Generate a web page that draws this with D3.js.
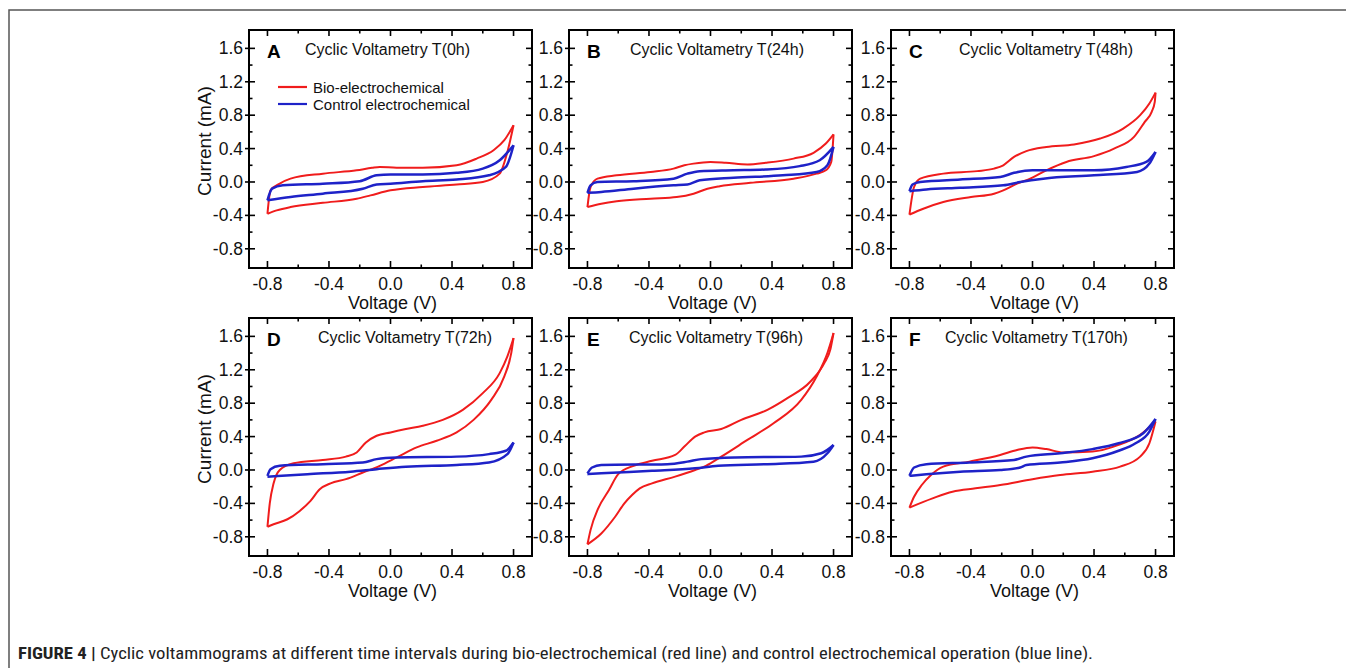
<!DOCTYPE html>
<html>
<head>
<meta charset="utf-8">
<script src="https://cdn.jsdelivr.net/npm/d3@7"></script>
<style>
  html, body { margin: 0; padding: 0; background: #fff; }
  svg { display: block; font-family: "Liberation Sans", Arial, Helvetica, sans-serif; }
</style>
</head>
<body>
<svg id="chart" width="1346" height="668"></svg>
<script>
// ---------------- DATA (voltage V, current mA), loops: forward scan then reverse ----------------
const panelLetters = ["A", "B", "C", "D", "E", "F"];
const panelTimes = ["0h", "24h", "48h", "72h", "96h", "170h"];
const legendLabels = ["Bio-electrochemical", "Control electrochemical"];
const xTicks = [-0.8, -0.4, 0.0, 0.4, 0.8];
const yTicks = [-0.8, -0.4, 0.0, 0.4, 0.8, 1.2, 1.6];
const xMinor = [-0.6, -0.2, 0.2, 0.6];
const yMinor = [-0.6, -0.2, 0.2, 0.6, 1.0, 1.4];

const bioA = [[-0.8,-0.38],[-0.78,-0.1],[-0.72,-0.02],[-0.65,0.04],[-0.44,0.1],[-0.22,0.14],[-0.12,0.17],[-0.07,0.18],[0.04,0.17],[0.21,0.17],[0.43,0.2],[0.56,0.28],[0.67,0.38],[0.74,0.5],[0.8,0.68],
  [0.76,0.36],[0.71,0.1],[0.6,0.0],[0.43,-0.03],[0.21,-0.06],[0.0,-0.1],[-0.13,-0.16],[-0.22,-0.2],[-0.44,-0.25],[-0.65,-0.3],[-0.74,-0.34],[-0.8,-0.38]];
const ctrlA = [[-0.8,-0.22],[-0.77,-0.08],[-0.7,-0.04],[-0.44,-0.02],[-0.2,0.01],[-0.09,0.08],[0,0.09],[0.21,0.09],[0.43,0.11],[0.6,0.16],[0.71,0.26],[0.8,0.44],
  [0.75,0.18],[0.64,0.08],[0.43,0.03],[0.21,0.01],[0,-0.02],[-0.09,-0.03],[-0.18,-0.08],[-0.44,-0.14],[-0.65,-0.18],[-0.8,-0.22]];
const bioB = [[-0.8,-0.3],[-0.78,-0.06],[-0.735,0.04],[-0.61,0.08],[-0.39,0.12],[-0.24,0.16],[-0.17,0.2],[-0.11,0.22],[0,0.24],[0.1,0.23],[0.24,0.21],[0.36,0.23],[0.54,0.28],[0.67,0.35],[0.75,0.46],[0.8,0.57],
  [0.785,0.24],[0.75,0.14],[0.69,0.1],[0.54,0.04],[0.26,-0.01],[0.06,-0.05],[-0.02,-0.08],[-0.11,-0.14],[-0.22,-0.18],[-0.39,-0.2],[-0.61,-0.23],[-0.71,-0.26],[-0.8,-0.3]];
const ctrlB = [[-0.8,-0.13],[-0.78,-0.04],[-0.735,0.0],[-0.5,0.01],[-0.24,0.04],[-0.15,0.1],[-0.07,0.13],[0.15,0.14],[0.36,0.15],[0.58,0.19],[0.71,0.26],[0.8,0.42],
  [0.76,0.2],[0.69,0.12],[0.47,0.08],[0.15,0.05],[-0.07,0.02],[-0.15,-0.03],[-0.24,-0.04],[-0.5,-0.08],[-0.71,-0.12],[-0.8,-0.13]];
const bioC = [[-0.8,-0.39],[-0.77,-0.06],[-0.73,0.04],[-0.58,0.1],[-0.36,0.13],[-0.25,0.16],[-0.19,0.2],[-0.12,0.3],[-0.04,0.37],[0.09,0.42],[0.27,0.45],[0.44,0.52],[0.59,0.64],[0.7,0.8],[0.76,0.94],[0.8,1.07],
  [0.795,0.96],[0.775,0.84],[0.73,0.72],[0.66,0.54],[0.53,0.4],[0.4,0.31],[0.22,0.24],[0.09,0.14],[-0.015,0.04],[-0.1,-0.02],[-0.19,-0.1],[-0.25,-0.14],[-0.4,-0.18],[-0.58,-0.24],[-0.71,-0.32],[-0.8,-0.39]];
const ctrlC = [[-0.8,-0.11],[-0.78,-0.03],[-0.73,0.0],[-0.47,0.03],[-0.21,0.06],[-0.12,0.11],[0,0.14],[0.4,0.14],[0.61,0.18],[0.74,0.24],[0.8,0.36],
  [0.76,0.22],[0.68,0.12],[0.4,0.08],[0.07,0.04],[-0.08,0.0],[-0.19,-0.04],[-0.47,-0.07],[-0.69,-0.09],[-0.8,-0.11]];
const bioD = [[-0.8,-0.68],[-0.785,-0.4],[-0.76,-0.16],[-0.72,0.0],[-0.63,0.08],[-0.44,0.12],[-0.29,0.16],[-0.22,0.21],[-0.16,0.33],[-0.09,0.41],[0,0.45],[0.1,0.49],[0.21,0.53],[0.34,0.6],[0.47,0.72],[0.6,0.92],[0.71,1.16],[0.76,1.36],[0.8,1.58],
  [0.785,1.4],[0.74,1.12],[0.655,0.84],[0.54,0.6],[0.43,0.45],[0.3,0.35],[0.17,0.27],[0.04,0.15],[-0.07,0.05],[-0.18,-0.03],[-0.29,-0.11],[-0.39,-0.16],[-0.46,-0.23],[-0.52,-0.37],[-0.59,-0.49],[-0.67,-0.59],[-0.76,-0.65],[-0.8,-0.68]];
const ctrlD = [[-0.8,-0.07],[-0.78,0.01],[-0.72,0.05],[-0.44,0.07],[-0.18,0.09],[-0.09,0.13],[0.04,0.15],[0.43,0.16],[0.64,0.19],[0.75,0.23],[0.8,0.33],
  [0.76,0.19],[0.64,0.09],[0.43,0.06],[0.1,0.04],[-0.09,0.01],[-0.26,-0.02],[-0.54,-0.05],[-0.8,-0.08]];
const bioE = [[-0.8,-0.89],[-0.78,-0.72],[-0.73,-0.46],[-0.66,-0.24],[-0.6,-0.05],[-0.5,0.05],[-0.38,0.11],[-0.23,0.18],[-0.17,0.28],[-0.1,0.4],[-0.04,0.45],[0.07,0.49],[0.2,0.6],[0.37,0.72],[0.5,0.86],[0.65,1.06],[0.74,1.28],[0.78,1.45],[0.8,1.64],
  [0.76,1.4],[0.69,1.12],[0.59,0.84],[0.41,0.56],[0.24,0.36],[0.07,0.16],[-0.03,0.05],[-0.1,0.0],[-0.23,-0.08],[-0.38,-0.16],[-0.46,-0.22],[-0.51,-0.3],[-0.56,-0.4],[-0.62,-0.56],[-0.71,-0.76],[-0.8,-0.89]];
const ctrlE = [[-0.8,-0.04],[-0.77,0.03],[-0.71,0.06],[-0.28,0.07],[-0.15,0.1],[-0.06,0.13],[0.16,0.15],[0.59,0.16],[0.72,0.2],[0.8,0.3],
  [0.76,0.2],[0.67,0.1],[0.37,0.07],[0.05,0.05],[-0.1,0.02],[-0.38,-0.01],[-0.71,-0.04],[-0.8,-0.05]];
const bioF = [[-0.8,-0.45],[-0.77,-0.32],[-0.72,-0.18],[-0.66,-0.06],[-0.58,0.04],[-0.41,0.1],[-0.21,0.18],[-0.1,0.24],[0,0.27],[0.09,0.25],[0.2,0.21],[0.39,0.22],[0.56,0.3],[0.7,0.42],[0.8,0.58],
  [0.76,0.32],[0.7,0.16],[0.57,0.04],[0.39,-0.02],[0.18,-0.06],[0,-0.11],[-0.21,-0.18],[-0.37,-0.22],[-0.52,-0.26],[-0.65,-0.34],[-0.8,-0.45]];
const ctrlF = [[-0.8,-0.07],[-0.77,0.03],[-0.69,0.07],[-0.41,0.09],[-0.12,0.12],[-0.04,0.16],[0.18,0.2],[0.39,0.25],[0.56,0.32],[0.72,0.44],[0.8,0.61],
  [0.76,0.46],[0.67,0.32],[0.56,0.23],[0.39,0.14],[0.18,0.09],[-0.04,0.06],[-0.08,0.03],[-0.21,0.0],[-0.47,-0.02],[-0.69,-0.05],[-0.8,-0.07]];

const bioLoops = [bioA, bioB, bioC, bioD, bioE, bioF];
const ctrlLoops = [ctrlA, ctrlB, ctrlC, ctrlD, ctrlE, ctrlF];

// ---------------- LAYOUT ----------------
const colLeft = [249, 569, 891];
const rowTop = [30, 318];
const plotW = 283, plotH = 238;
const titleOffset = [56, 61, 68, 69, 60, 54];
const RED = "#f01c1c", BLUE = "#1e22c8";

const svg = d3.select("#chart");

// outer figure frame
svg.append("path").attr("d", "M9,668 L9,10 L1346,10")
  .attr("fill", "none").attr("stroke", "#555").attr("stroke-width", 1.5);

const fmt = v => v.toFixed(1);

function splitLoop(loop) {
  let k = d3.maxIndex(loop, d => d[0]);
  const fwd = loop.slice(0, k + 1);
  const rev = loop.slice(k).slice().sort((a, b) => a[0] - b[0]);
  return [fwd, rev];
}

panelLetters.forEach((letter, i) => {
  const col = i % 3, row = Math.floor(i / 3);
  const left = colLeft[col], top = rowTop[row];
  const x = d3.scaleLinear().domain([-0.92, 0.92]).range([left, left + plotW]);
  const y = d3.scaleLinear().domain([-1.03, 1.82]).range([top + plotH, top]);
  const g = svg.append("g");
  const right = left + plotW, bottom = top + plotH;

  const line = d3.line().x(d => x(d[0])).y(d => y(d[1])).curve(d3.curveMonotoneX);

  // data
  const drawLoop = (loop, color, w) => {
    splitLoop(loop).forEach(br => {
      g.append("path").attr("d", line(br)).attr("fill", "none")
        .attr("stroke", color).attr("stroke-width", w).attr("stroke-linejoin", "round");
    });
  };
  drawLoop(bioLoops[i], RED, 2);
  drawLoop(ctrlLoops[i], BLUE, 2.5);

  // frame
  g.append("rect").attr("x", left).attr("y", top).attr("width", plotW).attr("height", plotH)
    .attr("fill", "none").attr("stroke", "#000").attr("stroke-width", 2);

  const tk = g.append("g").attr("stroke", "#000").attr("stroke-width", 1.6);
  yTicks.forEach(v => {
    tk.append("line").attr("x1", left - 4).attr("x2", left + 6).attr("y1", y(v)).attr("y2", y(v));
    tk.append("line").attr("x1", right - 6).attr("x2", right + 1).attr("y1", y(v)).attr("y2", y(v));
  });
  yMinor.forEach(v => {
    tk.append("line").attr("x1", left).attr("x2", left + 3.5).attr("y1", y(v)).attr("y2", y(v));
    tk.append("line").attr("x1", right - 3.5).attr("x2", right).attr("y1", y(v)).attr("y2", y(v));
  });
  xTicks.forEach(v => {
    tk.append("line").attr("x1", x(v)).attr("x2", x(v)).attr("y1", bottom - 7).attr("y2", bottom + 1);
    tk.append("line").attr("x1", x(v)).attr("x2", x(v)).attr("y1", top).attr("y2", top + 6);
  });
  xMinor.forEach(v => {
    tk.append("line").attr("x1", x(v)).attr("x2", x(v)).attr("y1", bottom - 3.5).attr("y2", bottom);
    tk.append("line").attr("x1", x(v)).attr("x2", x(v)).attr("y1", top).attr("y2", top + 3.5);
  });

  // tick labels
  yTicks.forEach(v => {
    g.append("text").attr("x", left - 6).attr("y", y(v) + 6).attr("text-anchor", "end")
      .attr("font-size", 17.5).attr("fill", "#111").text(fmt(v));
  });
  xTicks.forEach(v => {
    g.append("text").attr("x", x(v)).attr("y", bottom + 22).attr("text-anchor", "middle")
      .attr("font-size", 17.5).attr("fill", "#111").text(fmt(v));
  });
  g.append("text").attr("x", x(0) + 2).attr("y", bottom + 41).attr("text-anchor", "middle")
    .attr("font-size", 18).attr("fill", "#111").text("Voltage (V)");
  if (col === 0) {
    g.append("text").attr("transform", `translate(${left - 38},${(top + bottom) / 2 - 8}) rotate(-90)`)
      .attr("text-anchor", "middle").attr("font-size", 19).attr("fill", "#111").text("Current (mA)");
  }

  // letter + title
  g.append("text").attr("x", left + 18).attr("y", top + 28).attr("font-size", 19)
    .attr("font-weight", "bold").attr("fill", "#000").text(letter);
  g.append("text").attr("x", left + titleOffset[i]).attr("y", top + 25).attr("font-size", 16)
    .attr("fill", "#111").text("Cyclic Voltametry T(" + panelTimes[i] + ")");

  // legend in first panel
  if (i === 0) {
    [RED, BLUE].forEach((c, j) => {
      const ly = top + 57 + j * 17;
      g.append("line").attr("x1", left + 29).attr("x2", left + 58).attr("y1", ly).attr("y2", ly)
        .attr("stroke", c).attr("stroke-width", 2.2);
      g.append("text").attr("x", left + 64).attr("y", ly + 6).attr("font-size", 15)
        .attr("fill", "#111").text(legendLabels[j]);
    });
  }
});

// caption
const cap = svg.append("text").attr("x", 18).attr("y", 659).attr("font-size", 16.5).attr("fill", "#222")
  .attr("font-family", "'Liberation Sans Narrow', 'Roboto Condensed', 'Liberation Sans', Arial, sans-serif")
  .attr("textLength", 1075).attr("lengthAdjust", "spacingAndGlyphs");
cap.append("tspan").attr("font-weight", "bold").text("FIGURE 4 | ");
cap.append("tspan").text("Cyclic voltammograms at different time intervals during bio-electrochemical (red line) and control electrochemical operation (blue line).");
</script>
</body>
</html>
